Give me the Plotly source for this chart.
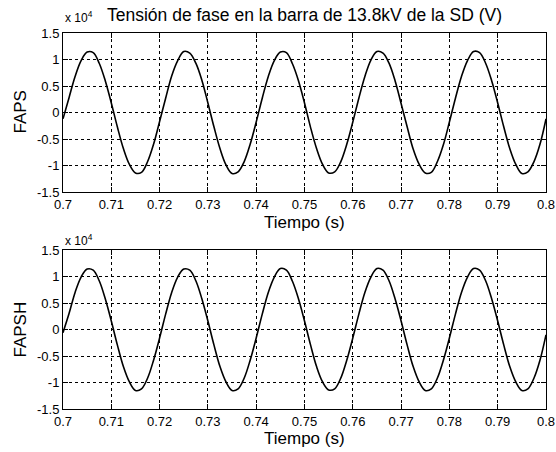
import plotly.graph_objects as go
from plotly.subplots import make_subplots

# Time samples (s)
t = [round(0.7 + i * 0.00125, 5) for i in range(81)]

# Phase voltage, FAPS (x 10^4 V)
faps = [
    -0.12, 0.28, 0.68, 0.98, 1.14, 1.13, 0.93, 0.60, 0.18, -0.27, -0.68, -0.98, -1.14, -1.13, -0.93, -0.60,
    -0.17, 0.27, 0.69, 0.98, 1.15, 1.12, 0.93, 0.61, 0.18, -0.27, -0.68, -0.99, -1.15, -1.12, -0.93, -0.60,
    -0.18, 0.27, 0.68, 0.98, 1.14, 1.13, 0.92, 0.60, 0.18, -0.28, -0.68, -0.98, -1.14, -1.12, -0.93, -0.60,
    -0.18, 0.27, 0.68, 0.99, 1.15, 1.12, 0.93, 0.60, 0.17, -0.27, -0.69, -0.98, -1.14, -1.13, -0.93, -0.61,
    -0.18, 0.27, 0.68, 0.98, 1.15, 1.13, 0.93, 0.60, 0.18, -0.27, -0.68, -0.98, -1.15, -1.12, -0.93, -0.60,
    -0.12,
]

# Phase voltage, FAPSH (x 10^4 V)
fapsh = [
    -0.06, 0.30, 0.70, 0.99, 1.14, 1.12, 0.92, 0.58, 0.16, -0.29, -0.70, -0.99, -1.15, -1.12, -0.92, -0.58,
    -0.16, 0.29, 0.70, 0.99, 1.14, 1.12, 0.92, 0.58, 0.16, -0.29, -0.70, -0.99, -1.15, -1.12, -0.92, -0.58,
    -0.16, 0.29, 0.70, 0.99, 1.15, 1.12, 0.91, 0.58, 0.16, -0.29, -0.70, -0.99, -1.14, -1.12, -0.92, -0.58,
    -0.16, 0.29, 0.70, 0.99, 1.15, 1.12, 0.92, 0.58, 0.16, -0.29, -0.70, -0.99, -1.15, -1.12, -0.92, -0.58,
    -0.16, 0.29, 0.70, 0.99, 1.15, 1.12, 0.92, 0.58, 0.16, -0.29, -0.70, -0.99, -1.15, -1.12, -0.92, -0.58,
    -0.10,
]

x_ticks = [0.7, 0.71, 0.72, 0.73, 0.74, 0.75, 0.76, 0.77, 0.78, 0.79, 0.8]
x_ticklabels = ["0.7", "0.71", "0.72", "0.73", "0.74", "0.75", "0.76", "0.77", "0.78", "0.79", "0.8"]
y_ticks = [-1.5, -1, -0.5, 0, 0.5, 1, 1.5]
y_ticklabels = ["-1.5", "-1", "-0.5", "0", "0.5", "1", "1.5"]

title_text = "Tensión de fase en la barra de 13.8kV de la SD (V)"
xlabel = "Tiempo (s)"
ylabels = ["FAPS", "FAPSH"]

FONT = "Liberation Sans, Arial, sans-serif"

W, H = 556, 452
ML, MR, MT, MB = 63, 10, 33, 43
IW, IH = W - ML - MR, H - MT - MB


def px(x):
    return (x - ML) / IW


def py(y):
    return (H - MB - y) / IH


fig = make_subplots(rows=2, cols=1)
fig.add_trace(go.Scatter(x=t, y=faps, mode="lines", line=dict(color="black", width=1.6, shape="spline"),
                         showlegend=False), row=1, col=1)
fig.add_trace(go.Scatter(x=t, y=fapsh, mode="lines", line=dict(color="black", width=1.6, shape="spline"),
                         showlegend=False), row=2, col=1)

ydoms = [[py(192), 1.0], [0.0, py(250)]]

axis_common = dict(showline=True, linecolor="black", linewidth=1, mirror="ticks",
                   ticks="inside", ticklen=5, tickcolor="black",
                   showgrid=True, gridcolor="black", griddash="3px,3px", gridwidth=1,
                   zeroline=False, automargin=False,
                   tickfont=dict(family=FONT, size=13, color="black"))

for i in range(2):
    r = i + 1
    fig.update_xaxes(range=[0.7, 0.8], tickvals=x_ticks, ticktext=x_ticklabels, domain=[0, 1],
                     row=r, col=1, **axis_common)
    fig.update_yaxes(range=[-1.5, 1.5], tickvals=y_ticks, ticktext=y_ticklabels, domain=ydoms[i],
                     row=r, col=1, **axis_common)

lab_font = dict(family=FONT, size=17, color="black")
annotations = [
    dict(text=title_text, x=px(304), y=py(15), font=dict(family=FONT, size=17.5, color="black"),
         xanchor="center", yanchor="middle"),
    dict(text="x 10<sup>4</sup>", x=px(63), y=py(17), font=dict(family=FONT, size=12, color="black"),
         xanchor="left", yanchor="middle"),
    dict(text="x 10<sup>4</sup>", x=px(63), y=py(240), font=dict(family=FONT, size=12, color="black"),
         xanchor="left", yanchor="middle"),
    dict(text=xlabel, x=px(304), y=py(223), font=lab_font, xanchor="center", yanchor="middle"),
    dict(text=xlabel, x=px(304), y=py(438), font=lab_font, xanchor="center", yanchor="middle"),
    dict(text=ylabels[0], x=px(20), y=py(112.5), font=lab_font, textangle=-90,
         xanchor="center", yanchor="middle"),
    dict(text=ylabels[1], x=px(20), y=py(329.5), font=lab_font, textangle=-90,
         xanchor="center", yanchor="middle"),
]
for a in annotations:
    a.update(xref="paper", yref="paper", showarrow=False)

fig.update_layout(width=W, height=H, margin=dict(l=ML, r=MR, t=MT, b=MB, autoexpand=False),
                  paper_bgcolor="white", plot_bgcolor="white", annotations=annotations)

fig.write_html("out.html", config={"displayModeBar": False},
               post_script="document.body.style.margin='0';document.body.style.overflow='hidden';")
